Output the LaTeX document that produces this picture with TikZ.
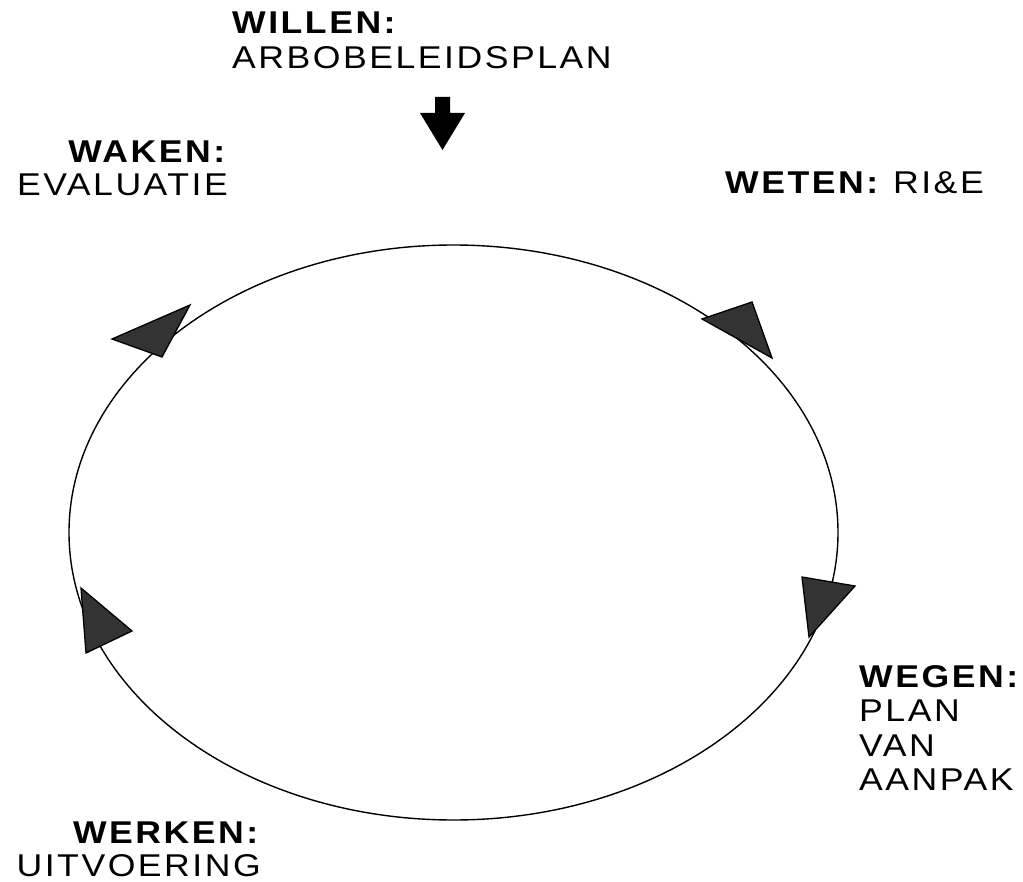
\documentclass[tikz,border=0pt]{standalone}
\usepackage{fontspec}
\setmainfont{Liberation Sans}[LetterSpace=8,FakeStretch=1.13]
\tikzset{
  label text/.style={inner sep=0pt,font=\fontsize{31.5}{34.5}\selectfont},
  flow head/.style={draw=black,line width=1.3pt,fill=black!80,line join=miter}
}
\begin{document}
\begin{tikzpicture}[x=1pt,y=-1pt]
  \useasboundingbox (0,0) rectangle (1023,882);
  \draw[line width=1.4pt]
      (453.5,532.5) ellipse [x radius=384.5, y radius=287.5];
  \filldraw[flow head]
      (112,339) -- (190,305) -- (162,357) -- cycle;
  \filldraw[flow head]
      (702,319) -- (752,302) -- (772,358) -- cycle;
  \filldraw[flow head]
      (802,577) -- (855,586) -- (809,637) -- cycle;
  \filldraw[flow head]
      (81,588) -- (132,631) -- (86,653) -- cycle;
  \fill
      (435,97) -- (450,97) -- (450,113) -- (465,113) -- (442.5,150)
      -- (420,113) -- (435,113) -- cycle;
  \node[label text,anchor=north west,align=left] (willen)
      at (232,11.7) {\textbf{WILLEN:}\\ARBOBELEIDSPLAN};
  \node[label text,anchor=north east,align=right] (waken)
      at (228,141) {\textbf{WAKEN:}\\[-2pt]EVALUATIE};
  \node[label text,anchor=north west] (weten)
      at (725,171.7) {\textbf{WETEN:} RI\&E};
  \node[label text,anchor=north west,align=left] (wegen)
      at (859,665) {\textbf{WEGEN:}\\PLAN\\VAN\\AANPAK};
  \node[label text,anchor=north east,align=right] (werken)
      at (261,821.7) {\textbf{WERKEN:}\\[-2pt]UITVOERING};
\end{tikzpicture}
\end{document}
